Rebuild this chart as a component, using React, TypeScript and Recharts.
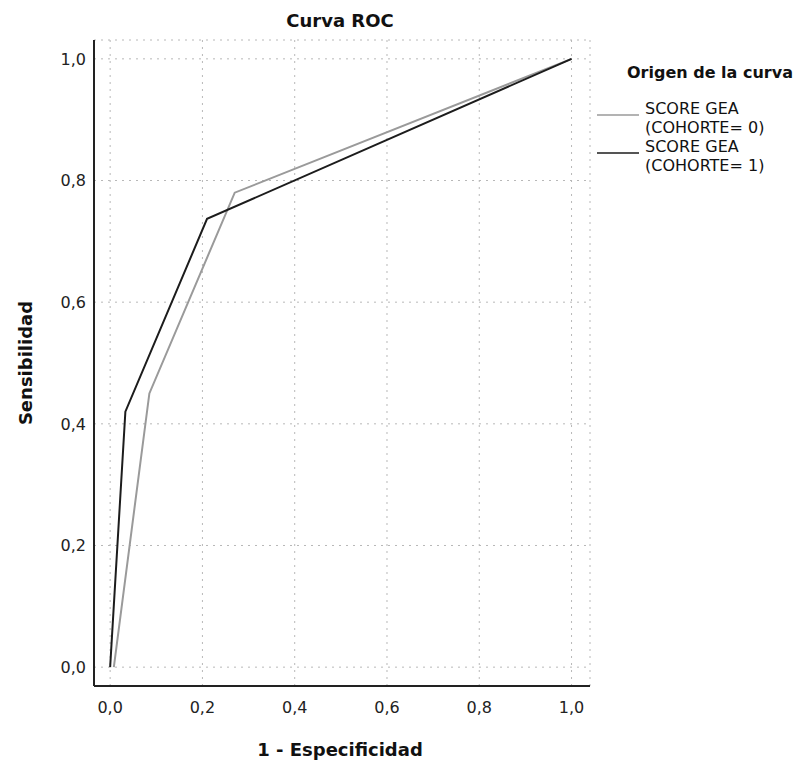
import { LineChart, Line, XAxis, YAxis, CartesianGrid, Legend } from "recharts";

// ROC points (1 - especificidad, sensibilidad)
const fprCohorte0 = [0.008, 0.085, 0.27, 1.0];
const sensCohorte0 = [0.0, 0.45, 0.78, 1.0];
const fprCohorte1 = [0.0, 0.033, 0.21, 1.0];
const sensCohorte1 = [0.0, 0.42, 0.737, 1.0];

const axisTicks = [0, 0.2, 0.4, 0.6, 0.8, 1.0];
const seriesNames = ["SCORE GEA (COHORTE= 0)", "SCORE GEA (COHORTE= 1)"];
const legendLabels = [
  ["SCORE GEA", "(COHORTE= 0)"],
  ["SCORE GEA", "(COHORTE= 1)"],
];

const FONT = "'DejaVu Sans', sans-serif";
const W = 812;
const H = 765;
const MARGIN = { top: 40, right: 222, bottom: 0, left: 0 };
const Y_AXIS_W = 94;
const X_AXIS_H = 79;

const toPoints = (xs: number[], ys: number[]) => xs.map((x, i) => ({ x, y: ys[i] }));
const cohorte0 = toPoints(fprCohorte0, sensCohorte0);
const cohorte1 = toPoints(fprCohorte1, sensCohorte1);

const fmt = (v: number) => v.toFixed(1).replace(".", ",");

const LegendBox = ({ payload }: any) => (
  <div style={{ fontFamily: FONT, color: "#111" }}>
    <div style={{ fontWeight: "bold", fontSize: 16, lineHeight: "20px", marginLeft: 30, marginBottom: 16 }}>
      Origen de la curva
    </div>
    {(payload || []).map((p: any, i: number) => (
      <div key={i} style={{ display: "flex", alignItems: "flex-start" }}>
        <svg width={48} height={19} style={{ flex: "none" }}>
          <line x1={0} x2={42} y1={16} y2={16} stroke={p.color} strokeWidth={1.5} />
        </svg>
        <div style={{ fontSize: 16, lineHeight: "19px" }}>
          <div>{legendLabels[i][0]}</div>
          <div>{legendLabels[i][1]}</div>
        </div>
      </div>
    ))}
  </div>
);

const YTitle = ({ viewBox }: any) => {
  const cx = 25;
  const cy = viewBox.y + viewBox.height / 2;
  return (
    <text
      x={cx}
      y={cy}
      transform={`rotate(-90, ${cx}, ${cy})`}
      textAnchor="middle"
      dominantBaseline="central"
      fontFamily={FONT}
      fontWeight="bold"
      fontSize={18}
      fill="#111"
    >
      Sensibilidad
    </text>
  );
};

const XTitle = ({ viewBox }: any) => (
  <text
    x={viewBox.x + viewBox.width / 2 - 2}
    y={viewBox.y + 63}
    textAnchor="middle"
    dominantBaseline="central"
    fontFamily={FONT}
    fontWeight="bold"
    fontSize={18}
    fill="#111"
  >
    1 - Especificidad
  </text>
);

export default function App() {
  const plotCenterX = Y_AXIS_W + (W - MARGIN.right - Y_AXIS_W) / 2;
  return (
    <div style={{ position: "absolute", left: 0, top: 0, background: "#fff" }}>
      <LineChart width={W} height={H} margin={MARGIN}>
        <text
          x={plotCenterX - 2}
          y={20}
          textAnchor="middle"
          dominantBaseline="central"
          fontFamily={FONT}
          fontWeight="bold"
          fontSize={18}
          fill="#111"
        >
          Curva ROC
        </text>
        <CartesianGrid stroke="#b8b8b8" strokeDasharray="2 5" />
        <XAxis
          type="number"
          dataKey="x"
          domain={[-0.035, 1.04]}
          ticks={axisTicks}
          tickFormatter={fmt}
          height={X_AXIS_H}
          tickLine={false}
          tickMargin={10}
          axisLine={{ stroke: "#222", strokeWidth: 2 }}
          tick={{ fill: "#222", fontSize: 16, fontFamily: FONT }}
          allowDuplicatedCategory={false}
          label={{ content: <XTitle /> }}
        />
        <YAxis
          type="number"
          dataKey="y"
          domain={[-0.031, 1.031]}
          ticks={axisTicks}
          tickFormatter={fmt}
          width={Y_AXIS_W}
          tickLine={false}
          axisLine={{ stroke: "#222", strokeWidth: 2 }}
          tick={{ fill: "#222", fontSize: 16, fontFamily: FONT }}
          label={{ content: <YTitle /> }}
        />
        <Legend
          layout="vertical"
          align="center"
          verticalAlign="middle"
          content={<LegendBox />}
          wrapperStyle={{ position: "absolute", left: 597, top: 63, width: 215, height: "auto" }}
        />
        <Line
          data={cohorte0}
          dataKey="y"
          name={seriesNames[0]}
          stroke="#9a9a9a"
          strokeWidth={2}
          dot={false}
          activeDot={false}
          type="linear"
          isAnimationActive={false}
        />
        <Line
          data={cohorte1}
          dataKey="y"
          name={seriesNames[1]}
          stroke="#1c1c1c"
          strokeWidth={2}
          dot={false}
          activeDot={false}
          type="linear"
          isAnimationActive={false}
        />
      </LineChart>
    </div>
  );
}
